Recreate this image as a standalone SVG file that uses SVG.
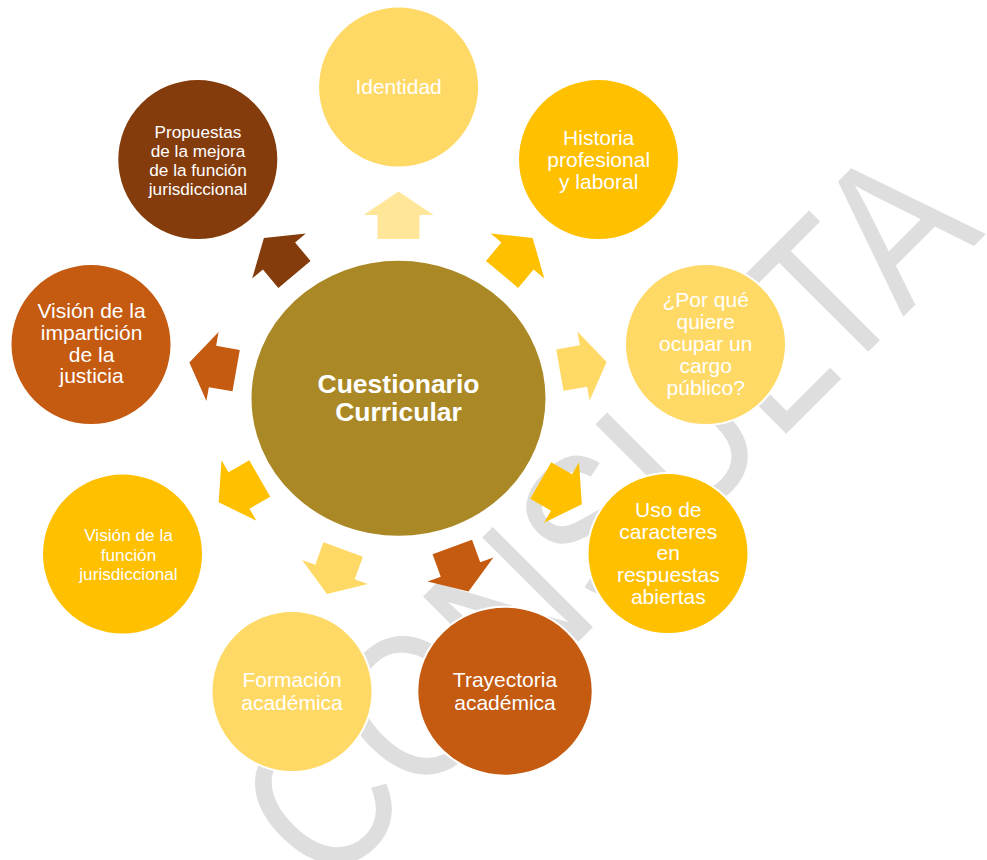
<svg xmlns="http://www.w3.org/2000/svg" width="987" height="860" viewBox="0 0 987 860">
<style>
.n{stroke:#fff;stroke-width:2}
.t{font-family:"Liberation Sans",Arial,sans-serif;fill:#fff;text-anchor:middle;font-size:21px}
.s{font-size:17.2px}
.b{font-weight:bold;font-size:26.5px}
.wm{font-family:"Liberation Sans",Arial,sans-serif;font-size:206px;fill:#DEDEDE}
</style>
<defs>
<path id="arr" d="M23.5,0 L0,35 L0,21 L-24,21 L-24,-21 L0,-21 L0,-35 Z"/>
</defs>
<rect width="987" height="860" fill="#fff"/>
<text class="wm" transform="translate(610,610) rotate(-45) scale(0.8555,1)" x="-469.5" y="0">CONSULTA</text>
<g id="connectors">
<use href="#arr" fill="#FFE699" transform="translate(398.5,215) rotate(-90)"/>
<use href="#arr" fill="#FFC000" transform="translate(517.5,256) rotate(-50)"/>
<use href="#arr" fill="#FFD966" transform="translate(583.5,366) rotate(-10)"/>
<use href="#arr" fill="#FFC000" transform="translate(561.5,492.5) rotate(30)"/>
<use href="#arr" fill="#C55A11" transform="translate(460.5,569.5) rotate(70)"/>
<use href="#arr" fill="#FFD966" transform="translate(335,572) rotate(110)"/>
<use href="#arr" fill="#FFC000" transform="translate(239,490.5) rotate(150)"/>
<use href="#arr" fill="#C55A11" transform="translate(212.5,366.5) rotate(190)"/>
<use href="#arr" fill="#843C0C" transform="translate(279,256) rotate(230)"/>
</g>
<g id="center">
<ellipse class="n" cx="398.5" cy="398.3" rx="148" ry="138.5" fill="#AA8826"/>
<text class="t b" x="398.5" y="392.7">Cuestionario</text>
<text class="t b" x="398.5" y="420.7">Curricular</text>
</g>
<g id="identidad">
<circle class="n" cx="398.6" cy="87" r="80.5" fill="#FFD966"/>
<text class="t" x="398.6" y="94">Identidad</text>
</g>
<g id="historia">
<circle class="n" cx="598.5" cy="159.5" r="80.5" fill="#FFC000"/>
<text class="t" x="598.7" y="145">Historia</text>
<text class="t" x="598.7" y="166.8">profesional</text>
<text class="t" x="598.7" y="188.6">y laboral</text>
</g>
<g id="porque">
<circle class="n" cx="705.5" cy="344.5" r="80.5" fill="#FFD966"/>
<text class="t" x="705.7" y="307.3">¿Por qué</text>
<text class="t" x="705.7" y="329.3">quiere</text>
<text class="t" x="705.7" y="351.3">ocupar un</text>
<text class="t" x="705.7" y="373.3">cargo</text>
<text class="t" x="705.7" y="395.3">público?</text>
</g>
<g id="uso">
<circle class="n" cx="668" cy="553.5" r="80.5" fill="#FFC000"/>
<text class="t" x="668.3" y="516.7">Uso de</text>
<text class="t" x="668.3" y="538.5">caracteres</text>
<text class="t" x="668.3" y="560.3">en</text>
<text class="t" x="668.3" y="582.1">respuestas</text>
<text class="t" x="668.3" y="603.9">abiertas</text>
</g>
<g id="trayectoria">
<ellipse class="n" cx="505" cy="691.2" rx="87.7" ry="84.5" fill="#C55A11"/>
<text class="t" x="505" y="687.3">Trayectoria</text>
<text class="t" x="505" y="709.5">académica</text>
</g>
<g id="formacion">
<circle class="n" cx="292" cy="691.5" r="80.5" fill="#FFD966"/>
<text class="t" x="292" y="687.3">Formación</text>
<text class="t" x="292" y="709.5">académica</text>
</g>
<g id="vision-funcion">
<circle class="n" cx="122.5" cy="554" r="80.5" fill="#FFC000"/>
<text class="t s" x="128.5" y="541">Visión de la</text>
<text class="t s" x="128.5" y="560.7">función</text>
<text class="t s" x="128.5" y="580.3">jurisdiccional</text>
</g>
<g id="vision-imparticion">
<circle class="n" cx="91" cy="344.5" r="80.5" fill="#C55A11"/>
<text class="t" x="91.6" y="318.3">Visión de la</text>
<text class="t" x="91.6" y="340">impartición</text>
<text class="t" x="91.6" y="361.7">de la</text>
<text class="t" x="91.6" y="383.3">justicia</text>
</g>
<g id="propuestas">
<circle class="n" cx="197.8" cy="159.5" r="80.5" fill="#843C0C"/>
<text class="t s" x="198" y="137.5">Propuestas</text>
<text class="t s" x="198" y="156.7">de la mejora</text>
<text class="t s" x="198" y="175.9">de la función</text>
<text class="t s" x="198" y="195.1">jurisdiccional</text>
</g>
</svg>
